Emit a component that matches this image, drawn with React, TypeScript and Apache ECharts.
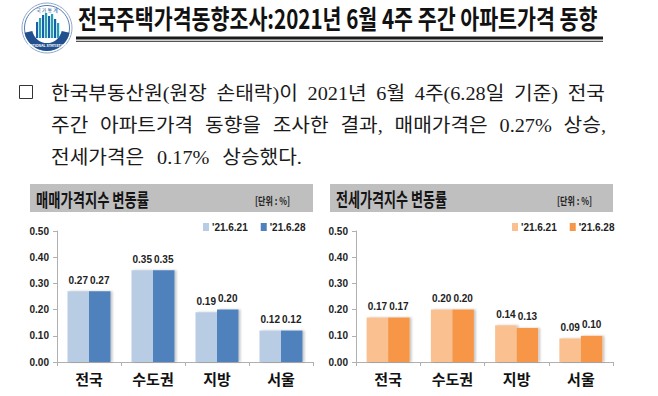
import React, { useEffect, useRef } from "react";
import * as echarts from "echarts";

// ---- data ----
const categories = ["전국", "수도권", "지방", "서울"];
const seriesNames = ["'21.6.21", "'21.6.28"];
const saleWeek1 = [0.27, 0.35, 0.19, 0.12];
const saleWeek2 = [0.27, 0.35, 0.2, 0.12];
const jeonseWeek1 = [0.17, 0.2, 0.14, 0.09];
const jeonseWeek2 = [0.17, 0.2, 0.13, 0.1];
const yTicks = { min: 0, max: 0.5, interval: 0.1 };

const pageTitle = "전국주택가격동향조사:2021년 6월 4주 주간 아파트가격 동향";
const saleTitle = "매매가격지수 변동률";
const jeonseTitle = "전세가격지수 변동률";
const unitText = "[단위 : %]";
const paragraphLines = [
  ["한국부동산원(원장", "손태락)이", "2021년", "6월", "4주(6.28일", "기준)", "전국"],
  ["주간", "아파트가격", "동향을", "조사한", "결과,", "매매가격은", "0.27%", "상승,"],
  ["전세가격은", "0.17%", "상승했다."],
];

const KR = "'Noto Sans CJK KR', 'Noto Sans', sans-serif";
const PARA_FONT = "'Liberation Serif', 'Noto Sans CJK KR', serif";
const LAT = "'Liberation Sans', Arial, sans-serif";

let measureCtx: CanvasRenderingContext2D | null = null;
function measure(text: string, font: string) {
  if (!measureCtx) measureCtx = document.createElement("canvas").getContext("2d");
  measureCtx!.font = font;
  return measureCtx!.measureText(text).width;
}

// bold text stretched vertically and fitted horizontally to a target width
function fittedText(text: string, x: number, y: number, size: number, targetW: number, sy: number, color: string) {
  const w = measure(text, `bold ${size}px ${KR}`);
  return {
    type: "text",
    x,
    y,
    scaleX: targetW / w,
    scaleY: sy,
    style: {
      text,
      fontSize: size,
      fontWeight: "bold",
      fontFamily: KR,
      fill: color,
      align: "left",
      verticalAlign: "middle",
    },
  };
}

function paragraph() {
  const size = 19;
  const font = `${size}px ${PARA_FONT}`;
  const sx = 156 / measure(paragraphLines[0][0], font);
  const ys = [93, 125, 157];
  const ends = [605, 606, 302];
  const x0 = 51;
  const out: any[] = [];
  paragraphLines.forEach((words, i) => {
    const widths = words.map((w) => measure(w, font) * sx);
    const total = widths.reduce((a, b) => a + b, 0);
    const gap = (ends[i] - x0 - total) / (words.length - 1);
    let x = x0;
    words.forEach((w, j) => {
      out.push({
        type: "text",
        x,
        y: ys[i],
        scaleX: sx,
        style: { text: w, fontSize: size, fontFamily: PARA_FONT, fill: "#1a1a1a", align: "left", verticalAlign: "middle" },
      });
      x += widths[j] + gap;
    });
  });
  return out;
}

function logo() {
  const cx = 47, cy = 28;
  const els: any[] = [
    { type: "circle", shape: { cx, cy, r: 25 }, style: { fill: "#fff", stroke: "#8fa9cc", lineWidth: 1 } },
    { type: "circle", shape: { cx, cy, r: 22.5 }, style: { fill: "none", stroke: "#2b5b9b", lineWidth: 0.8 } },
    {
      type: "sector",
      shape: { cx, cy, r: 23, r0: 15, startAngle: (12 * Math.PI) / 180, endAngle: (168 * Math.PI) / 180 },
      style: { fill: "#22508f" },
    },
    {
      type: "text",
      x: cx,
      y: 9,
      style: { text: "국 가 통 계", fontSize: 5, fontFamily: KR, fill: "#2b5b9b", align: "center", verticalAlign: "middle" },
    },
    {
      type: "text",
      x: cx,
      y: 45,
      style: { text: "NATIONAL STATISTICS", fontSize: 3.6, fontWeight: "bold", fontFamily: KR, fill: "#fff", align: "center", verticalAlign: "middle" },
    },
  ];
  const bars = [
    [36, 22, "#1d5ea8"],
    [39, 18, "#1aa3b5"],
    [42, 15, "#1d5ea8"],
    [45, 13, "#1aa3b5"],
    [48, 16, "#1d5ea8"],
    [51, 14, "#1aa3b5"],
    [54, 19, "#1d5ea8"],
    [57, 23, "#1aa3b5"],
  ];
  bars.forEach(([x, top, c]) => {
    els.push({ type: "rect", shape: { x: x as number, y: top as number, width: 2.2, height: 38 - (top as number) }, style: { fill: c } });
  });
  return els;
}

function header(x: number, w: number, title: string, titleW: number, unitX: number) {
  return [
    { type: "rect", shape: { x, y: 184, width: w, height: 28 }, style: { fill: "#bfbfbf" } },
    fittedText(title, x + 6, 198.5, 15, titleW, 1.25, "#141414"),
    fittedText(unitText, unitX, 200, 9, 35, 1.2, "#222"),
  ];
}

const labelFmt = (p: any) => Number(p.value).toFixed(2);

function barSeries(name: string, data: number[], color: string, idx: number) {
  return {
    type: "bar",
    name,
    data,
    xAxisIndex: idx,
    yAxisIndex: idx,
    barWidth: 21.5,
    barGap: "0%",
    itemStyle: {
      color,
      shadowColor: "rgba(0,0,0,0.22)",
      shadowBlur: 2,
      shadowOffsetX: 2,
      shadowOffsetY: 0,
    },
    label: {
      show: true,
      position: "top",
      distance: 6,
      formatter: labelFmt,
      fontSize: 10,
      fontWeight: "bold",
      fontFamily: LAT,
      color: "#222",
    },
  };
}

function xAxis(idx: number) {
  return {
    type: "category",
    gridIndex: idx,
    data: categories,
    axisLine: { lineStyle: { color: "#b0b0b0", width: 1 } },
    axisTick: { show: true, length: 4, lineStyle: { color: "#b0b0b0" } },
    axisLabel: { fontSize: 15, fontWeight: "bold", fontFamily: KR, color: "#111", margin: 9 },
  };
}

function yAxis(idx: number) {
  return {
    type: "value",
    gridIndex: idx,
    min: yTicks.min,
    max: yTicks.max,
    interval: yTicks.interval,
    axisLine: { show: true, lineStyle: { color: "#b0b0b0", width: 1 } },
    axisTick: { show: true, length: 4, lineStyle: { color: "#b0b0b0" } },
    splitLine: { show: false },
    axisLabel: {
      formatter: (v: number) => v.toFixed(2),
      fontSize: 10,
      fontWeight: "bold",
      fontFamily: LAT,
      color: "#222",
      margin: 8,
    },
  };
}

const saleNames = seriesNames.map((n) => "s|" + n);
const jeonseNames = seriesNames.map((n) => "j|" + n);

function legend(left: number, names: string[]) {
  return {
    left,
    top: 222,
    padding: 0,
    itemGap: 13,
    itemWidth: 6,
    itemHeight: 8,
    icon: "rect",
    data: names,
    formatter: (n: string) => n.split("|")[1],
    textStyle: { fontSize: 10, fontWeight: "bold", fontFamily: LAT, color: "#222", padding: [0, 0, 0, -2] },
    selectedMode: false,
  };
}

export default function App() {
  const ref = useRef<HTMLDivElement>(null);
  useEffect(() => {
    const chart = echarts.init(ref.current!, null, { renderer: "svg" });
    chart.setOption({
      animation: false,
      backgroundColor: "#ffffff",
      legend: [legend(203, saleNames), legend(512, jeonseNames)],
      grid: [
        { left: 57, right: 345, top: 231, bottom: 34 },
        { left: 356, right: 45, top: 231, bottom: 34 },
      ],
      xAxis: [xAxis(0), xAxis(1)],
      yAxis: [yAxis(0), yAxis(1)],
      series: [
        barSeries(saleNames[0], saleWeek1, "#b8cce4", 0),
        barSeries(saleNames[1], saleWeek2, "#4f81bd", 0),
        barSeries(jeonseNames[0], jeonseWeek1, "#fac090", 1),
        barSeries(jeonseNames[1], jeonseWeek2, "#f79646", 1),
      ],
      graphic: [
        ...logo(),
        fittedText(pageTitle, 78, 18, 20, 520, 1.32, "#111"),
        { type: "rect", shape: { x: 76, y: 36.5, width: 527, height: 3 }, style: { fill: "#1a1a1a" } },
        { type: "rect", shape: { x: 76, y: 40.8, width: 527, height: 1.2 }, style: { fill: "#555" } },
        { type: "rect", shape: { x: 19.5, y: 85.5, width: 13, height: 13 }, style: { fill: "none", stroke: "#333", lineWidth: 1 } },
        ...paragraph(),
        ...header(30, 283, saleTitle, 113, 255),
        ...header(330, 283, jeonseTitle, 111, 557),
      ],
    });
    return () => chart.dispose();
  }, []);
  return <div ref={ref} style={{ position: "absolute", left: 0, top: 0, width: 658, height: 396 }} />;
}
